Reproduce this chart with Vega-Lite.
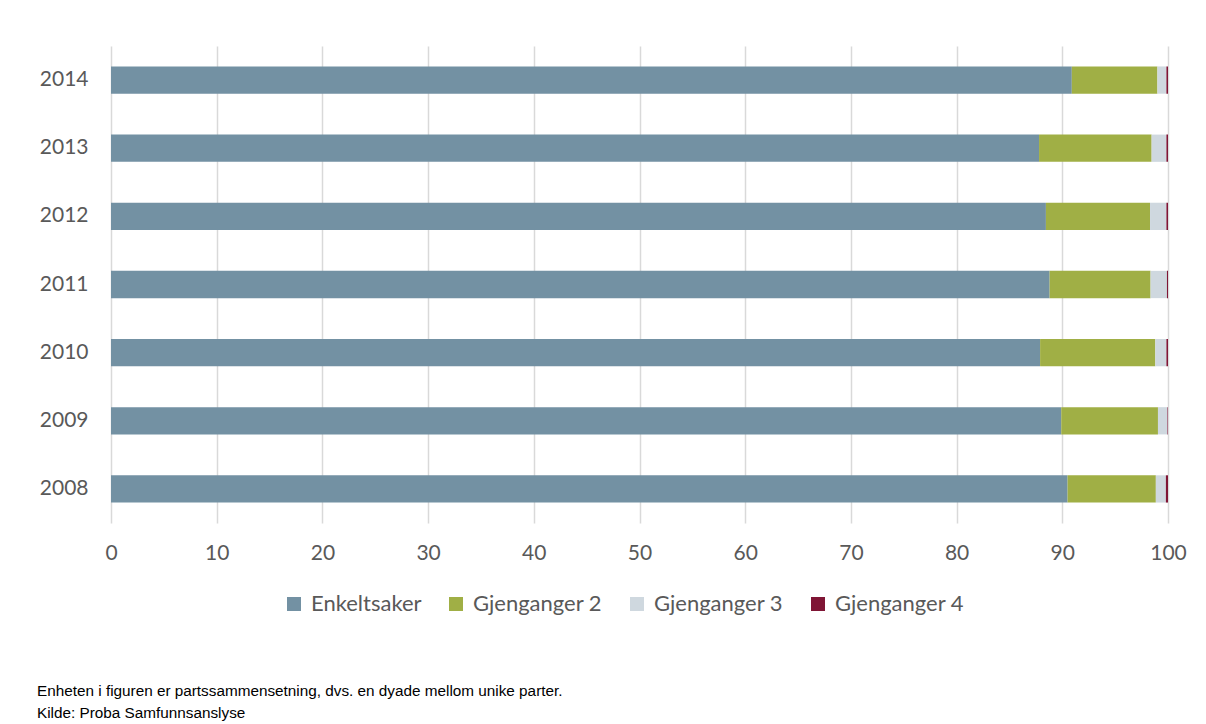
{
  "$schema": "https://vega.github.io/schema/vega-lite/v6.json",
  "width": 1057,
  "height": 477,
  "autosize": {"type": "none"},
  "padding": {"left": 111, "top": 46, "right": 38, "bottom": 201},
  "background": "white",
  "title": {
    "text": ["Enheten i figuren er partssammensetning, dvs. en dyade mellom unike parter.", "Kilde: Proba Samfunnsanslyse"],
    "orient": "bottom",
    "anchor": "start",
    "frame": "group",
    "dx": -74,
    "offset": 69,
    "font": "Liberation Sans",
    "fontSize": 15.3,
    "fontWeight": "normal",
    "color": "#000000",
    "lineHeight": 22
  },
  "data": {
    "values": [
      {"year": "2014", "serie": "Enkeltsaker", "pct": 90.9},
      {"year": "2014", "serie": "Gjenganger 2", "pct": 8.1},
      {"year": "2014", "serie": "Gjenganger 3", "pct": 0.85},
      {"year": "2014", "serie": "Gjenganger 4", "pct": 0.15},
      {"year": "2013", "serie": "Enkeltsaker", "pct": 87.8},
      {"year": "2013", "serie": "Gjenganger 2", "pct": 10.65},
      {"year": "2013", "serie": "Gjenganger 3", "pct": 1.4},
      {"year": "2013", "serie": "Gjenganger 4", "pct": 0.15},
      {"year": "2012", "serie": "Enkeltsaker", "pct": 88.45},
      {"year": "2012", "serie": "Gjenganger 2", "pct": 9.85},
      {"year": "2012", "serie": "Gjenganger 3", "pct": 1.55},
      {"year": "2012", "serie": "Gjenganger 4", "pct": 0.15},
      {"year": "2011", "serie": "Enkeltsaker", "pct": 88.8},
      {"year": "2011", "serie": "Gjenganger 2", "pct": 9.55},
      {"year": "2011", "serie": "Gjenganger 3", "pct": 1.55},
      {"year": "2011", "serie": "Gjenganger 4", "pct": 0.1},
      {"year": "2010", "serie": "Enkeltsaker", "pct": 87.9},
      {"year": "2010", "serie": "Gjenganger 2", "pct": 10.9},
      {"year": "2010", "serie": "Gjenganger 3", "pct": 1.05},
      {"year": "2010", "serie": "Gjenganger 4", "pct": 0.15},
      {"year": "2009", "serie": "Enkeltsaker", "pct": 89.9},
      {"year": "2009", "serie": "Gjenganger 2", "pct": 9.15},
      {"year": "2009", "serie": "Gjenganger 3", "pct": 0.9},
      {"year": "2009", "serie": "Gjenganger 4", "pct": 0.05},
      {"year": "2008", "serie": "Enkeltsaker", "pct": 90.5},
      {"year": "2008", "serie": "Gjenganger 2", "pct": 8.35},
      {"year": "2008", "serie": "Gjenganger 3", "pct": 0.95},
      {"year": "2008", "serie": "Gjenganger 4", "pct": 0.2}
    ]
  },
  "mark": {"type": "bar"},
  "encoding": {
    "y": {
      "field": "year",
      "type": "nominal",
      "sort": "descending",
      "scale": {"paddingInner": 0.6, "paddingOuter": 0.3},
      "axis": {
        "title": null,
        "domain": false,
        "ticks": false,
        "labelPadding": 23,
        "labelFont": "Lato",
        "labelFontSize": 21,
        "labelColor": "#595959"
      }
    },
    "x": {
      "field": "pct",
      "type": "quantitative",
      "stack": "zero",
      "scale": {"domain": [0, 100], "nice": false},
      "axis": {
        "title": null,
        "values": [0, 10, 20, 30, 40, 50, 60, 70, 80, 90, 100],
        "domain": false,
        "ticks": false,
        "grid": true,
        "gridColor": "#d9d9d9",
        "gridWidth": 1.5,
        "labelPadding": 19,
        "labelFont": "Lato",
        "labelFontSize": 21,
        "labelColor": "#595959",
        "labelFlush": false
      }
    },
    "color": {
      "field": "serie",
      "type": "nominal",
      "scale": {
        "domain": ["Enkeltsaker", "Gjenganger 2", "Gjenganger 3", "Gjenganger 4"],
        "range": ["#7391a3", "#a0af45", "#cfd8df", "#7f1535"]
      },
      "legend": {
        "title": null,
        "orient": "none",
        "direction": "horizontal",
        "legendX": 172,
        "legendY": 547,
        "symbolType": "square",
        "symbolSize": 196,
        "symbolStrokeWidth": 0,
        "labelFont": "Lato",
        "labelFontSize": 22,
        "labelColor": "#595959",
        "labelOffset": 6,
        "columnPadding": 23
      }
    }
  },
  "config": {
    "view": {"stroke": null}
  }
}
